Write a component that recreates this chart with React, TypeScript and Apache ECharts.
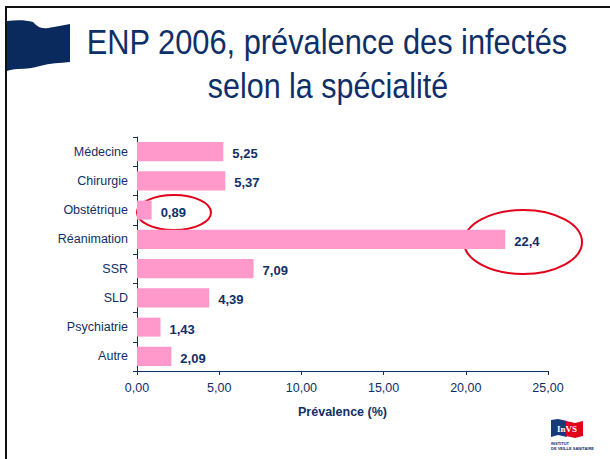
import React, { useEffect, useRef } from "react";
import * as echarts from "echarts";

const categories = ["Médecine", "Chirurgie", "Obstétrique", "Réanimation", "SSR", "SLD", "Psychiatrie", "Autre"];
const values = [5.25, 5.37, 0.89, 22.4, 7.09, 4.39, 1.43, 2.09];
const axisMin = 0;
const axisMax = 25;
const axisStep = 5;
const titleLines = ["ENP 2006, prévalence des infectés", "selon la spécialité"];
const axisName = "Prévalence (%)";

const NAVY = "#0f2f68";
const FONT = "'Liberation Sans', Arial, Helvetica, sans-serif";

const flagPath =
  "M7,21 C16,20 26,20 33,22 C37,26 40,29 48,28 C56,27 63,25 70,24 L70,62 C60,63 50,63 40,66 C34,68 26,69 18,69 C13,69 10,70 7,71 Z";

export default function App() {
  const ref = useRef<HTMLDivElement>(null);
  useEffect(() => {
    if (!ref.current) return;
    echarts.graphic.registerShape("flagShape", echarts.graphic.extendPath(flagPath, {}));
    const chart = echarts.init(ref.current, null, { renderer: "svg" });
    chart.setOption({
      animation: false,
      backgroundColor: "#ffffff",
      grid: { left: 137, right: 62, top: 137, bottom: 88, containLabel: false },
      xAxis: {
        type: "value",
        min: axisMin,
        max: axisMax,
        interval: axisStep,
        name: axisName,
        nameLocation: "middle",
        nameGap: 34,
        nameTextStyle: { color: NAVY, fontFamily: FONT, fontSize: 12.5, fontWeight: "bold" },
        axisLine: { show: true, lineStyle: { color: NAVY, width: 1 } },
        axisTick: { show: true, length: 4, lineStyle: { color: NAVY } },
        splitLine: { show: false },
        axisLabel: {
          color: NAVY,
          fontFamily: FONT,
          fontSize: 12.5,
          margin: 10,
          formatter: (v: number) => v.toFixed(2).replace(".", ","),
        },
      },
      yAxis: {
        type: "category",
        data: categories,
        inverse: true,
        axisLine: { show: true, lineStyle: { color: NAVY, width: 1 } },
        axisTick: { show: true, length: 4, alignWithLabel: false, lineStyle: { color: NAVY } },
        axisLabel: { color: NAVY, fontFamily: FONT, fontSize: 12.5, margin: 9 },
      },
      series: [
        {
          type: "bar",
          data: values,
          barCategoryGap: "35%",
          itemStyle: { color: "#ff99cc" },
          label: {
            show: true,
            position: "right",
            distance: 9,
            color: NAVY,
            fontFamily: FONT,
            fontSize: 13,
            fontWeight: "bold",
            offset: [0, 2],
            formatter: (p: any) => String(p.value).replace(".", ","),
          },
        },
      ],
      graphic: [
        { type: "line", shape: { x1: 5, y1: 7, x2: 610, y2: 7 }, style: { stroke: "#111", lineWidth: 2 } },
        { type: "line", shape: { x1: 6, y1: 6, x2: 6, y2: 459 }, style: { stroke: "#111", lineWidth: 2 } },
        { type: "flagShape", x: 0, y: 0, style: { fill: "#0a2a5e" } },
        {
          type: "text",
          x: 327,
          y: 42,
          scaleX: 0.88,
          style: { text: titleLines[0], font: `35px ${FONT}`, fill: NAVY, align: "center", verticalAlign: "middle" },
        },
        {
          type: "text",
          x: 328,
          y: 86,
          scaleX: 0.87,
          style: { text: titleLines[1], font: `35px ${FONT}`, fill: NAVY, align: "center", verticalAlign: "middle" },
        },
        {
          type: "ellipse",
          shape: { cx: 174, cy: 212.5, rx: 37, ry: 17.5 },
          style: { fill: "none", stroke: "#e3001b", lineWidth: 2 },
        },
        {
          type: "ellipse",
          shape: { cx: 523, cy: 242, rx: 59, ry: 32 },
          style: { fill: "none", stroke: "#e3001b", lineWidth: 2 },
        },
        // InVS logo
        {
          type: "polygon",
          shape: { points: [[551, 420], [558, 419], [567, 421], [567, 437], [558, 435], [551, 437]] },
          style: { fill: "#173a7a" },
        },
        {
          type: "polygon",
          shape: { points: [[566, 421], [575, 423], [583, 421], [583, 436], [575, 438], [566, 436]] },
          style: { fill: "#e3001b" },
        },
        {
          type: "text",
          x: 567,
          y: 429,
          style: { text: "InVS", font: `bold 9px 'Liberation Serif', serif`, fill: "#ffffff", align: "center", verticalAlign: "middle" },
        },
        {
          type: "text",
          x: 551,
          y: 443,
          style: { text: "INSTITUT", font: `bold 4px ${FONT}`, fill: NAVY, align: "left", verticalAlign: "middle" },
        },
        {
          type: "text",
          x: 551,
          y: 448,
          style: { text: "DE VEILLE SANITAIRE", font: `bold 4px ${FONT}`, fill: NAVY, align: "left", verticalAlign: "middle" },
        },
      ],
    });
    return () => chart.dispose();
  }, []);
  return (
    <div
      ref={ref}
      style={{ position: "absolute", left: 0, top: 0, width: 610, height: 459, background: "#fff" }}
    />
  );
}
